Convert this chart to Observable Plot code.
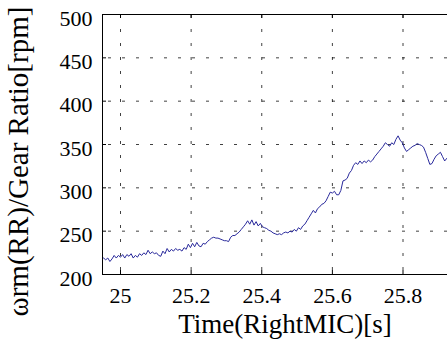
<!DOCTYPE html>
<html>
<head>
<meta charset="utf-8">
<script src="https://cdn.jsdelivr.net/npm/d3@7"></script>
<script src="https://cdn.jsdelivr.net/npm/@observablehq/plot@0.6"></script>
<style>
  body { margin: 0; background: #fff; }
  svg { display: block; }
</style>
</head>
<body>
<div id="chart"></div>
<script>
// Sample times [s] and rotor speed divided by gear ratio [rpm]
const time = [
  24.946, 24.952, 24.958, 24.964, 24.970, 24.976, 24.982, 24.988, 24.994, 25.000,
  25.006, 25.012, 25.018, 25.024, 25.030, 25.036, 25.042, 25.048, 25.054, 25.060,
  25.066, 25.072, 25.078, 25.084, 25.090, 25.096, 25.102, 25.108, 25.114, 25.120,
  25.126, 25.132, 25.138, 25.144, 25.150, 25.156, 25.162, 25.168, 25.174, 25.180,
  25.186, 25.192, 25.198, 25.204, 25.210, 25.216, 25.222, 25.228, 25.234, 25.240,
  25.246, 25.252, 25.258, 25.264, 25.270, 25.276, 25.282, 25.288, 25.294, 25.300,
  25.306, 25.312, 25.318, 25.324, 25.330, 25.336, 25.342, 25.348, 25.354, 25.360,
  25.366, 25.372, 25.378, 25.384, 25.390, 25.396, 25.402, 25.408, 25.414, 25.420,
  25.426, 25.432, 25.438, 25.444, 25.450, 25.456, 25.462, 25.468, 25.474, 25.480,
  25.486, 25.492, 25.498, 25.504, 25.510, 25.516, 25.522, 25.528, 25.534, 25.540,
  25.546, 25.552, 25.558, 25.564, 25.570, 25.576, 25.582, 25.588, 25.594, 25.600,
  25.606, 25.612, 25.618, 25.624, 25.630, 25.636, 25.642, 25.648, 25.654, 25.660,
  25.666, 25.672, 25.678, 25.684, 25.690, 25.696, 25.702, 25.708, 25.714, 25.720,
  25.726, 25.732, 25.738, 25.744, 25.750, 25.756, 25.762, 25.768, 25.774, 25.780,
  25.786, 25.792, 25.798, 25.804, 25.810, 25.816, 25.822, 25.828, 25.834, 25.840,
  25.846, 25.852, 25.858, 25.864, 25.870, 25.876, 25.882, 25.888, 25.894, 25.900,
  25.906, 25.912, 25.918, 25.924
];
const speed = [
  218, 219, 217, 219, 215, 218, 222, 219, 222, 220,
  223, 219, 223, 221, 224, 219, 222, 220, 224, 222,
  225, 223, 228, 224, 226, 224, 225, 222, 221, 227,
  224, 230, 226, 229, 227, 230, 228, 229, 227, 231,
  229, 235, 231, 236, 232, 237, 233, 232, 236, 235,
  238, 240, 242, 243, 242, 242, 241, 240, 239, 239,
  238, 243, 245, 245, 247, 249, 252, 255, 258, 262,
  258, 263, 257, 261, 256, 259, 255, 254, 253, 251,
  250, 248, 247, 246, 247, 246, 248, 249, 248, 250,
  249, 252, 250, 254, 252, 256, 258, 262, 266, 270,
  274, 271, 276, 278, 281, 282, 285, 290, 295, 294,
  296, 292, 292, 297, 308, 309, 311, 317, 320, 326,
  329, 327, 331, 328, 331, 329, 332, 330, 332, 336,
  339, 342, 345, 348, 352, 350, 348, 352, 350, 356,
  360, 355, 352, 346, 342, 344, 346, 348, 349, 351,
  350, 349, 347, 341, 334, 327, 328, 333, 337, 339,
  341, 336, 331, 334
];
const xTicks = [25, 25.2, 25.4, 25.6, 25.8];
const yTicks = [200, 250, 300, 350, 400, 450, 500];
const xLabel = "Time(RightMIC)[s]";
const yLabel = "ωrm(RR)/Gear Ratio[rpm]";

const rows = time.map((t, i) => ({t, v: speed[i]}));
const serif = "'Liberation Serif', 'Times New Roman', Times, serif";
const grid = {stroke: "#000", strokeOpacity: 0.75, strokeWidth: 1, strokeDasharray: "3,11"};
const txt = {fontFamily: serif, fill: "#000", fontVariant: "normal"};

const chart = Plot.plot({
  width: 447,
  height: 345,
  marginLeft: 102,
  marginRight: 0,
  marginTop: 14,
  marginBottom: 71,
  x: {domain: [24.949, 25.926], axis: null},
  y: {domain: [200, 500], axis: null},
  marks: [
    Plot.gridX(xTicks, {...grid, strokeDashoffset: -1}),
    Plot.gridY(yTicks.slice(1, -1), {...grid, strokeDashoffset: -6}),
    // inward ticks on the bottom, top and left edges
    Plot.tickX(xTicks, {x: d => d, insetTop: 256, stroke: "#000"}),
    Plot.tickX(xTicks, {x: d => d, insetBottom: 256, stroke: "#000"}),
    Plot.tickY(yTicks, {y: d => d, insetRight: 341, stroke: "#000"}),
    Plot.line(rows, {x: "t", y: "v", stroke: "#2a2a9c", strokeWidth: 1, clip: true}),
    Plot.frame({anchor: "left", stroke: "#000"}),
    Plot.frame({anchor: "top", stroke: "#000"}),
    Plot.frame({anchor: "bottom", stroke: "#000"}),
    // tick labels
    Plot.text(xTicks, {...txt, x: d => d, text: d => String(d), frameAnchor: "bottom", lineAnchor: "top", dy: 13, fontSize: 22}),
    Plot.text(yTicks, {...txt, y: d => d, text: d => String(d), frameAnchor: "left", textAnchor: "end", dx: -10, dy: 4, fontSize: 22}),
    // axis titles
    Plot.text([xLabel], {...txt, frameAnchor: "bottom", textAnchor: "middle", dx: 10, dy: 58, fontSize: 27}),
    Plot.text([yLabel], {...txt, frameAnchor: "left", textAnchor: "middle", rotate: -90, dx: -84, dy: 17, fontSize: 29})
  ]
});
document.getElementById("chart").append(chart);
</script>
</body>
</html>
